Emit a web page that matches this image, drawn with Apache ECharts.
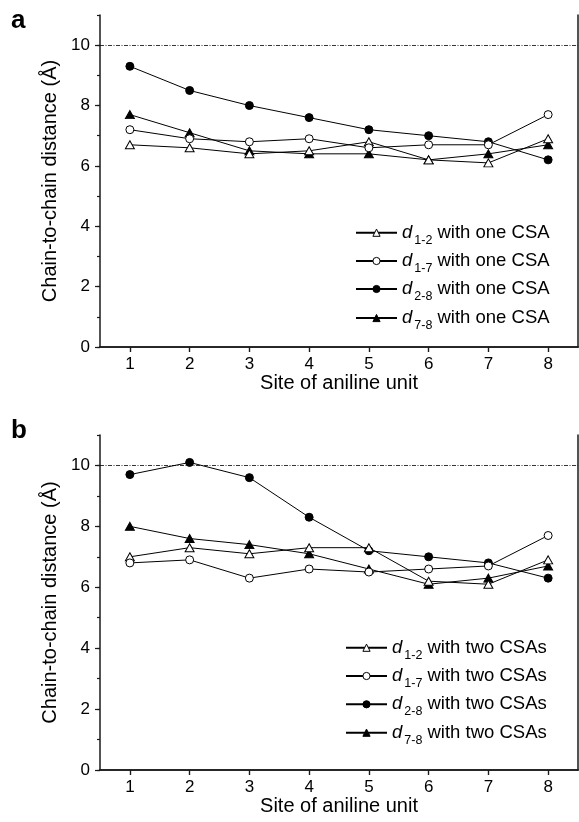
<!DOCTYPE html>
<html>
<head>
<meta charset="utf-8">
<script src="https://cdn.jsdelivr.net/npm/echarts@6/dist/echarts.min.js"></script>
<style>html,body{margin:0;padding:0;background:#fff}#c{width:579px;height:822px}</style>
</head>
<body>
<div id="c"></div>
<script>
// ---- data ----
const sites = ['1','2','3','4','5','6','7','8'];
const yTickLabels = ['0','2','4','6','8','10'];
const refLevel = 10;
// panel a: one CSA
const a_d12 = [6.7, 6.6, 6.4, 6.5, 6.8, 6.2, 6.1, 6.9];
const a_d17 = [7.2, 6.9, 6.8, 6.9, 6.6, 6.7, 6.7, 7.7];
const a_d28 = [9.3, 8.5, 8.0, 7.6, 7.2, 7.0, 6.8, 6.2];
const a_d78 = [7.7, 7.1, 6.5, 6.4, 6.4, 6.2, 6.4, 6.7];
// panel b: two CSAs
const b_d12 = [7.0, 7.3, 7.1, 7.3, 7.3, 6.2, 6.1, 6.9];
const b_d17 = [6.8, 6.9, 6.3, 6.6, 6.5, 6.6, 6.7, 7.7];
const b_d28 = [9.7, 10.1, 9.6, 8.3, 7.2, 7.0, 6.8, 6.3];
const b_d78 = [8.0, 7.6, 7.4, 7.1, 6.6, 6.1, 6.3, 6.7];
const pairLabels = ['1-2', '1-7', '2-8', '7-8'];
const suffixA = ' with one CSA';
const suffixB = ' with two CSAs';
const xTitle = 'Site of aniline unit';
const yTitle = 'Chain-to-chain distance (Å)';

// ---- styles ----
const FONT = '"Liberation Sans", Arial, Helvetica, sans-serif';
const AX = '#1a1a1a';

const chart = echarts.init(document.getElementById('c'), null, {renderer: 'canvas'});

const grids = [
  {left: 100, right: 1, top: 15, height: 332},
  {left: 100, right: 1, top: 435, height: 335}
];

function xBottom(g) {
  return {
    type: 'category', data: sites, gridIndex: g, position: 'bottom', boundaryGap: true,
    axisLine: {show: true, lineStyle: {color: AX, width: 1.5}},
    axisTick: {show: true, alignWithLabel: true, inside: false, length: 5, lineStyle: {color: AX, width: 1.2}},
    axisLabel: {show: true, margin: 9, fontSize: 17, color: '#000', fontFamily: FONT},
    splitLine: {show: false},
    name: xTitle, nameLocation: 'middle', nameGap: 26,
    nameTextStyle: {fontSize: 20, color: '#000', fontFamily: FONT}
  };
}
function xTop(g) {
  return {
    type: 'category', data: sites, gridIndex: g, position: 'top', boundaryGap: true,
    axisLine: {show: true, lineStyle: {color: AX, width: 1.5}},
    axisTick: {show: true, alignWithLabel: true, inside: true, length: 5, lineStyle: {color: AX, width: 1.2}},
    axisLabel: {show: false}, splitLine: {show: false}
  };
}
function yMain(g) {
  return {
    type: 'value', gridIndex: g, position: 'left', min: 0, max: 11, interval: 2,
    axisLine: {show: true, lineStyle: {color: AX, width: 1.5}},
    axisTick: {show: true, inside: false, length: 5, lineStyle: {color: AX, width: 1.2}},
    axisLabel: {show: true, margin: 10, fontSize: 17, color: '#000', fontFamily: FONT, showMaxLabel: false,
      formatter: v => yTickLabels.indexOf(String(v)) >= 0 ? String(v) : ''},
    splitLine: {show: false},
    name: yTitle, nameLocation: 'middle', nameGap: 40, nameRotate: 90,
    nameTextStyle: {fontSize: 20, color: '#000', fontFamily: FONT}
  };
}
function yMinor(g) {
  return {
    type: 'value', gridIndex: g, position: 'left', min: 0, max: 11, interval: 1,
    axisLine: {show: false},
    axisTick: {show: true, inside: false, length: 3, lineStyle: {color: AX, width: 1.2}},
    axisLabel: {show: false}, splitLine: {show: false}
  };
}
function yRight(g) {
  return {
    type: 'value', gridIndex: g, position: 'right', min: 0, max: 11, interval: 2,
    axisLine: {show: true, lineStyle: {color: AX, width: 1.5}},
    axisTick: {show: false}, axisLabel: {show: false}, splitLine: {show: false}
  };
}

function mk(name, data, symbol, filled, xi, yi, withRef) {
  const s = {
    name: name, type: 'line', data: data, xAxisIndex: xi, yAxisIndex: yi,
    symbol: symbol, symbolSize: symbol === 'triangle' ? [9, 8] : 8,
    showAllSymbol: true, z: filled ? 3 : 4,
    lineStyle: {color: '#000', width: 1},
    itemStyle: {color: filled ? '#000' : '#fff', borderColor: '#000', borderWidth: 1},
    emphasis: {disabled: true}, animation: false
  };
  if (withRef) {
    s.markLine = {
      silent: true, symbol: 'none', label: {show: false}, animation: false,
      lineStyle: {color: '#000', width: 0.8, type: [4, 1.5, 1, 1.5]},
      data: [{yAxis: refLevel}]
    };
  }
  return s;
}

const series = [
  mk('a12', a_d12, 'triangle', false, 0, 0, true),
  mk('a17', a_d17, 'circle', false, 0, 0, false),
  mk('a28', a_d28, 'circle', true, 0, 0, false),
  mk('a78', a_d78, 'triangle', true, 0, 0, false),
  mk('b12', b_d12, 'triangle', false, 2, 3, true),
  mk('b17', b_d17, 'circle', false, 2, 3, false),
  mk('b28', b_d28, 'circle', true, 2, 3, false),
  mk('b78', b_d78, 'triangle', true, 2, 3, false)
];

const labelMap = {};
['a', 'b'].forEach(p => {
  ['12', '17', '28', '78'].forEach((k, i) => {
    labelMap[p + k] = '{i|d}{s|' + pairLabels[i] + '}{t|' + (p === 'a' ? suffixA : suffixB) + '}';
  });
});

const legendRich = {
  i: {fontStyle: 'italic', fontSize: 18.5, fontFamily: FONT, color: '#000'},
  s: {fontSize: 12.5, fontFamily: FONT, color: '#000', padding: [15, 0, 0, 2]},
  t: {fontSize: 18.5, fontFamily: FONT, color: '#000'}
};

const legA = {left: 355, centers: [232.7, 261, 289, 318]};
const legB = {left: 345, centers: [647.7, 676, 704.3, 732.7]};
const legends = [];
['12', '17', '28', '78'].forEach((k, i) => {
  [['a', legA], ['b', legB]].forEach(([p, L]) => {
    legends.push({
      data: [p + k], left: L.left, top: L.centers[i] - 9.5, orient: 'vertical', padding: 0,
      itemWidth: 41, itemHeight: 9, selectedMode: false,
      itemStyle: {borderWidth: 1},
      formatter: n => labelMap[n],
      textStyle: {fontFamily: FONT, fontSize: 18.5, color: '#000', rich: legendRich}
    });
  });
});

chart.setOption({
  backgroundColor: '#fff',
  animation: false,
  grid: grids,
  xAxis: [xBottom(0), xTop(0), xBottom(1), xTop(1)],
  yAxis: [yMain(0), yMinor(0), yRight(0), yMain(1), yMinor(1), yRight(1)],
  legend: legends,
  series: series,
  graphic: [
    {type: 'text', left: 11, top: 8, style: {text: 'a', font: 'bold 26px ' + FONT, fill: '#000'}},
    {type: 'text', left: 11, top: 418, style: {text: 'b', font: 'bold 26px ' + FONT, fill: '#000'}}
  ]
});
</script>
</body>
</html>
